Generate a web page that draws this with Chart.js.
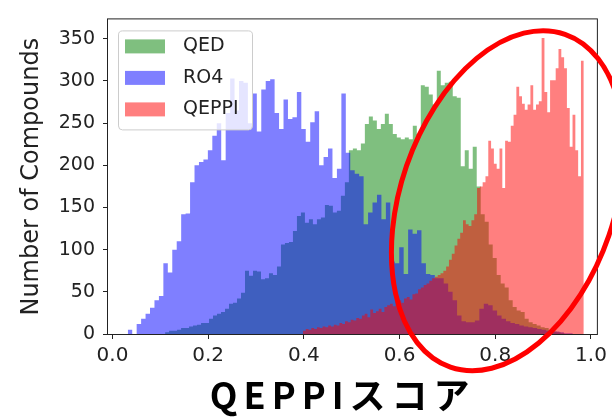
<!DOCTYPE html>
<html>
<head>
<meta charset="utf-8">
<script src="https://cdn.jsdelivr.net/npm/chart.js@4.4.1/dist/chart.umd.min.js"></script>
<style>
  html, body { margin: 0; padding: 0; background: #fff; }
</style>
</head>
<body>
<canvas id="qeppiChart" width="612" height="417"></canvas>
<script>
// score histograms, 100 bins each, over each set's own score range
const seriesLabels = ['QED', 'RO4', 'QEPPI'];

const qedRange = [0.11, 0.945];
const qedCounts = [
  2, 4, 4, 5, 7, 7, 9, 10, 11, 13,
  13, 18, 22, 24, 26, 30, 36, 37, 42, 49,
  75, 69, 75, 74, 65, 66, 72, 70, 80, 106,
  108, 109, 122, 140, 144, 132, 136, 130, 136, 138,
  153, 152, 144, 146, 164, 180, 218, 220, 218, 226,
  249, 258, 253, 243, 249, 261, 249, 237, 233, 231,
  233, 231, 247, 237, 295, 293, 284, 272, 312, 295,
  298, 299, 282, 280, 199, 218, 196, 222, 175, 142,
  133, 106, 90, 70, 60, 55, 40, 32, 28, 26,
  18, 14, 12, 10, 8, 7, 5, 3, 2, 1
];

const ro4Range = [0.032, 0.962];
const ro4Counts = [
  5, 0, 12, 18, 24, 31, 40, 45, 84, 73,
  100, 110, 142, 143, 180, 200, 204, 207, 218, 235,
  250, 206, 262, 303, 265, 300, 298, 250, 285, 240,
  290, 300, 302, 262, 243, 278, 255, 257, 287, 243,
  228, 251, 264, 200, 210, 220, 185, 196, 285, 215,
  194, 190, 187, 130, 144, 156, 165, 136, 156, 86,
  84, 103, 71, 124, 119, 123, 84, 71, 70, 66,
  66, 60, 50, 40, 22, 15, 14, 14, 16, 30,
  36, 34, 28, 22, 18, 15, 13, 12, 10, 9,
  8, 7, 6, 5, 4, 3, 3, 2, 1, 1
];

const qeppiRange = [0.398, 0.985];
const qeppiCounts = [
  4, 6, 5, 7, 6, 8, 7, 9, 8, 10,
  9, 11, 10, 13, 12, 15, 14, 17, 16, 19,
  18, 22, 24, 20, 29, 25, 27, 30, 26, 32,
  34, 36, 33, 38, 40, 37, 42, 44, 41, 47,
  48, 53, 55, 58, 60, 63, 66, 68, 70, 72,
  75, 80, 88, 95, 105, 113, 120, 135, 130, 128,
  135, 142, 173, 175, 180, 187, 229, 220, 202, 196,
  220, 173, 229, 228, 247, 260, 293, 282, 273, 266,
  272, 295, 266, 272, 276, 351, 287, 263, 301, 301,
  315, 338, 328, 315, 268, 222, 260, 218, 187, 324
];

const xTicks = [0.0, 0.2, 0.4, 0.6, 0.8, 1.0];
const yTicks = [0, 50, 100, 150, 200, 250, 300, 350];

const xCaption = 'QEPPIスコア';

// bin edges -> stepped points; the last point closes the final bin
function histPoints(counts, range) {
  const w = (range[1] - range[0]) / counts.length;
  const pts = counts.map((c, i) => ({ x: range[0] + i * w, y: c }));
  pts.push({ x: range[1], y: 0 });
  return pts;
}

function histDataset(label, counts, range, color, order) {
  return {
    label: label,
    data: histPoints(counts, range),
    stepped: true,
    fill: 'origin',
    backgroundColor: color,
    borderWidth: 0,
    pointRadius: 0,
    order: order
  };
}

const ink = '#222222';

// axes box, legend, caption and the highlight ring
const decorations = {
  id: 'decorations',
  afterDatasetsDraw(chart) {
    const { ctx, chartArea: a } = chart;
    ctx.save();
    ctx.strokeStyle = ink;
    ctx.lineWidth = 1;
    ctx.strokeRect(a.left - 0.5, a.top - 0.5, a.right - a.left + 1, a.bottom - a.top + 1);

    const x0 = a.left + 10, y0 = a.top + 11, w = 134, h = 99;
    ctx.beginPath();
    ctx.roundRect(x0 + 0.5, y0 + 0.5, w, h, 4);
    ctx.fillStyle = 'rgba(255,255,255,0.8)';
    ctx.fill();
    ctx.strokeStyle = '#cccccc';
    ctx.stroke();

    ctx.font = '19px "DejaVu Sans"';
    ctx.textBaseline = 'middle';
    chart.data.datasets.forEach((ds, i) => {
      const cy = y0 + 16 + i * 31.5;
      ctx.fillStyle = ds.backgroundColor;
      ctx.fillRect(x0 + 7, cy - 7, 40, 14);
      ctx.fillStyle = ink;
      ctx.fillText(ds.label, x0 + 65, cy);
    });
    ctx.restore();
  },
  afterDraw(chart) {
    const { ctx, scales, chartArea: a } = chart;
    ctx.save();
    // x caption sits a little left of the axis centre, slightly tracked out
    ctx.font = 'bold 36px "Noto Sans CJK JP"';
    ctx.letterSpacing = '6px';
    ctx.fillStyle = '#000';
    ctx.textAlign = 'center';
    ctx.textBaseline = 'middle';
    ctx.fillText(xCaption, scales.x.getPixelForValue(0.475) + 3, a.bottom + 61);
    ctx.letterSpacing = '0px';

    const cx = scales.x.getPixelForValue(0.826);
    const cy = scales.y.getPixelForValue(158);
    ctx.beginPath();
    ctx.ellipse(cx, cy, 107, 176, 19 * Math.PI / 180, 0, Math.PI * 2);
    ctx.strokeStyle = '#ff0000';
    ctx.lineWidth = 5;
    ctx.stroke();
    ctx.restore();
  }
};

Chart.defaults.font.family = '"DejaVu Sans", sans-serif';
Chart.defaults.color = ink;

new Chart(document.getElementById('qeppiChart'), {
  type: 'line',
  data: {
    datasets: [
      histDataset(seriesLabels[0], qedCounts, qedRange, 'rgba(0,128,0,0.5)', 3),
      histDataset(seriesLabels[1], ro4Counts, ro4Range, 'rgba(0,0,255,0.5)', 2),
      histDataset(seriesLabels[2], qeppiCounts, qeppiRange, 'rgba(255,0,0,0.5)', 1)
    ]
  },
  options: {
    responsive: false,
    animation: false,
    devicePixelRatio: 1,
    layout: { padding: { left: 0, right: 12, top: 13, bottom: 0 } },
    plugins: {
      legend: { display: false },
      tooltip: { enabled: false }
    },
    scales: {
      x: {
        type: 'linear',
        min: -0.0093,
        max: 1.0124,
        afterBuildTicks: (scale) => { scale.ticks = xTicks.map(v => ({ value: v })); },
        afterFit: (scale) => { scale.height = 83; },
        ticks: {
          font: { size: 20 },
          padding: 5,
          maxRotation: 0,
          callback: (v) => v.toFixed(1)
        },
        grid: { display: true, drawOnChartArea: false, drawTicks: true, tickLength: 5, tickColor: ink },
        border: { display: false }
      },
      y: {
        min: 0,
        max: 373,
        afterBuildTicks: (scale) => { scale.ticks = yTicks.map(v => ({ value: v })); },
        afterFit: (scale) => { scale.width = 108; },
        ticks: {
          font: { size: 19 },
          padding: 8,
          callback: (v) => String(v)
        },
        grid: { display: true, drawOnChartArea: false, drawTicks: true, tickLength: 5, tickColor: ink },
        border: { display: false },
        title: {
          display: true,
          text: 'Number of Compounds',
          font: { size: 24, lineHeight: 1 },
          padding: { top: 20, bottom: 0 }
        }
      }
    }
  },
  plugins: [decorations]
});
</script>
</body>
</html>
